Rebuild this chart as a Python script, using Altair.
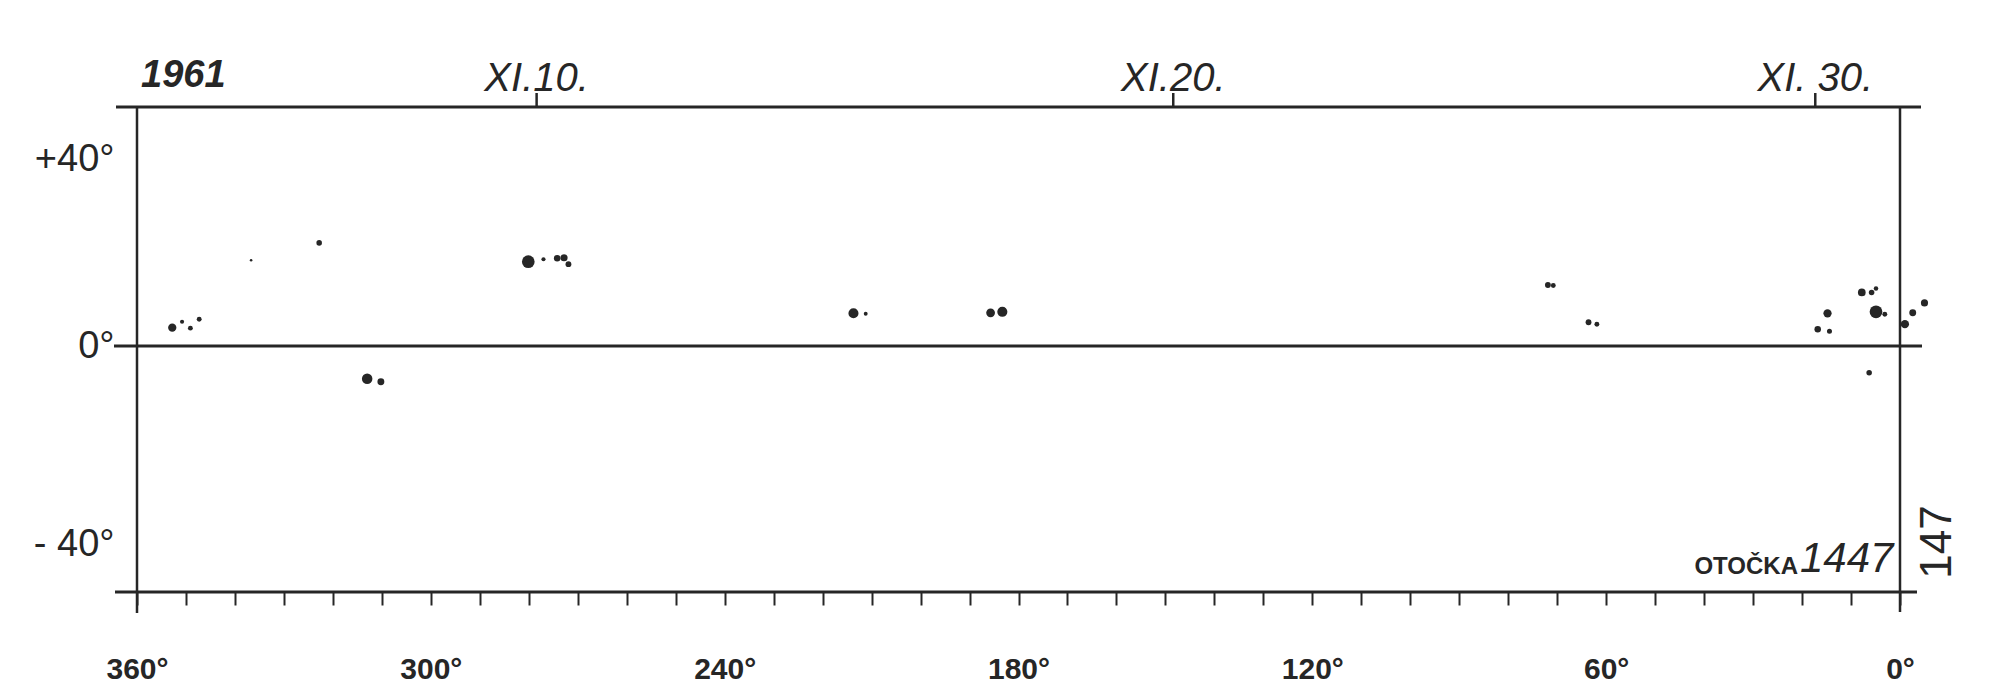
import altair as alt
import pandas as pd

# ---- data (Carrington rotation 1447, Nov 1961) ----
# Carrington longitude (deg), heliographic latitude (deg), relative spot area
spot_lon = [352.8, 350.8, 349.1, 347.3, 336.7, 322.8, 313.0, 310.2,
            280.1, 277.0, 274.2, 272.8, 271.9,
            213.7, 211.2, 185.7, 183.3,
            71.9, 70.8, 63.6, 61.9,
            16.8, 14.4, 14.8, 7.8, 5.8, 4.9, 4.9, 3.1, 6.3,
            -1.0, -2.6, -5.0]
spot_lat = [3.7, 4.9, 3.6, 5.4, 17.3, 20.8, -6.6, -7.2,
            17.0, 17.5, 17.7, 17.8, 16.5,
            6.6, 6.5, 6.7, 6.9,
            12.3, 12.2, 4.8, 4.4,
            3.4, 3.0, 6.6, 10.8, 10.8, 11.6, 6.9, 6.4, -5.4,
            4.4, 6.7, 8.7]
spot_area = [4.0, 1.0, 1.4, 1.4, 0.4, 1.8, 6.5, 2.8,
             9.5, 1.0, 2.5, 3.0, 2.0,
             6.0, 0.9, 4.5, 6.0,
             2.0, 1.4, 2.0, 1.4,
             2.5, 1.5, 4.0, 3.5, 1.8, 1.2, 9.5, 1.4, 1.8,
             4.0, 2.8, 3.0]

date_labels = ["XI.10.", "XI.20.", "XI. 30."]
date_lon = [278.4, 148.4, 17.3]

lon_tick_values = list(range(0, 361, 10))
lon_label_step = 60
lat_label_values = [40, 0, -40]
lat_label_text = ["+40°", "0°", "- 40°"]

year_label = "1961"
rotation_word = "OTOČKA"
rotation_number = "1447"
side_number = "147"

lon_domain = [360, 0]
lat_domain = [-49.6, 48.2]

# ---- styling ----
W, H = 1763, 485
INK = "#262626"
FONT = "Liberation Sans"

spots = pd.DataFrame({"lon": spot_lon, "lat": spot_lat, "area": spot_area})
dates = pd.DataFrame({"lon": date_lon, "label": date_labels})
one = pd.DataFrame({"k": [0]})

xs = alt.Scale(domain=lon_domain, nice=False, zero=False)
ys = alt.Scale(domain=lat_domain, nice=False, zero=False)

lat_expr = "''"
for v, t in zip(lat_label_values, lat_label_text):
    lat_expr = f"datum.value == {v} ? '{t}' : ({lat_expr})"

x_axis = alt.Axis(
    values=lon_tick_values,
    labelExpr=f"datum.value % {lon_label_step} == 0 ? datum.value + '°' : ''",
    orient="bottom", domain=False, grid=False, title=None,
    tickSize=13, tickWidth=2, tickColor=INK,
    labelFont=FONT, labelFontSize=30, labelFontWeight="bold", labelColor=INK,
    labelPadding=49, labelOverlap=False, labelFlush=False, labelBound=False,
)
y_axis = alt.Axis(
    values=lat_label_values, labelExpr=lat_expr,
    orient="left", domain=False, grid=False, ticks=False, title=None,
    labelFont=FONT, labelFontSize=38, labelColor=INK, labelPadding=23,
    labelOffset={"condition": {"test": "datum.value > 0", "value": 12}, "value": 0},
    labelFlush=False, labelOverlap=False,
)

spot_layer = alt.Chart(spots).mark_circle(color=INK, opacity=1).encode(
    x=alt.X("lon:Q", scale=xs, axis=x_axis),
    y=alt.Y("lat:Q", scale=ys, axis=y_axis),
    size=alt.Size("area:Q", scale=alt.Scale(domain=[0, 10], range=[0, 170]), legend=None),
)

date_ticks = alt.Chart(dates).mark_rule(color=INK, strokeWidth=2.5).encode(
    x=alt.X("lon:Q", scale=xs, axis=None),
    y=alt.value(-14), y2=alt.value(0),
)
date_text = alt.Chart(dates).mark_text(
    font=FONT, fontSize=40, fontStyle="italic", color=INK,
    align="center", baseline="alphabetic",
).encode(
    x=alt.X("lon:Q", scale=xs, axis=None),
    y=alt.value(-16),
    text="label:N",
)

def hline(y, x1, x2, sw):
    return alt.Chart(one).mark_rule(color=INK, strokeWidth=sw).encode(
        y=y, x=alt.value(x1), x2=alt.value(x2))

def vline(x, y1, y2, sw):
    return alt.Chart(one).mark_rule(color=INK, strokeWidth=sw).encode(
        x=alt.value(x), y=alt.value(y1), y2=alt.value(y2))

top_line = hline(alt.value(0), -21, W + 21, 3)
equator = hline(alt.Y(datum=0, scale=ys, axis=None), -23, W + 22, 3)
bottom_line = hline(alt.value(H), -22, W + 17, 3)
left_line = vline(0, 0, H + 21, 2.5)
right_line = vline(W, 0, H + 20, 2.5)

year_text = alt.Chart(one).mark_text(
    text=year_label, font=FONT, fontSize=38, fontStyle="italic", fontWeight="bold",
    color=INK, align="left", baseline="alphabetic",
).encode(x=alt.value(4), y=alt.value(-20))

rot_word = alt.Chart(one).mark_text(
    text=rotation_word, font=FONT, fontSize=24, fontWeight="bold",
    color=INK, align="right", baseline="alphabetic",
).encode(x=alt.value(W - 102), y=alt.value(H - 18))

rot_num = alt.Chart(one).mark_text(
    text=rotation_number, font=FONT, fontSize=42, fontStyle="italic",
    color=INK, align="left", baseline="alphabetic",
).encode(x=alt.value(W - 100), y=alt.value(H - 20))

side_text = alt.Chart(one).mark_text(
    text=side_number, font=FONT, fontSize=44, angle=270,
    color=INK, align="center", baseline="middle",
).encode(x=alt.value(W + 38), y=alt.value(H - 50))

chart = alt.layer(
    spot_layer, top_line, equator, bottom_line, left_line, right_line,
    date_ticks, date_text, year_text, rot_word, rot_num, side_text,
).resolve_axis(
    x="independent", y="independent"
).properties(
    width=W, height=H,
    autosize=alt.AutoSizeParams(type="none"),
    padding={"left": 129, "top": 99, "right": 92, "bottom": 100},
    background="white",
).configure_view(stroke=None)

chart.save("out.html", embed_options={"renderer": "svg", "actions": False})
